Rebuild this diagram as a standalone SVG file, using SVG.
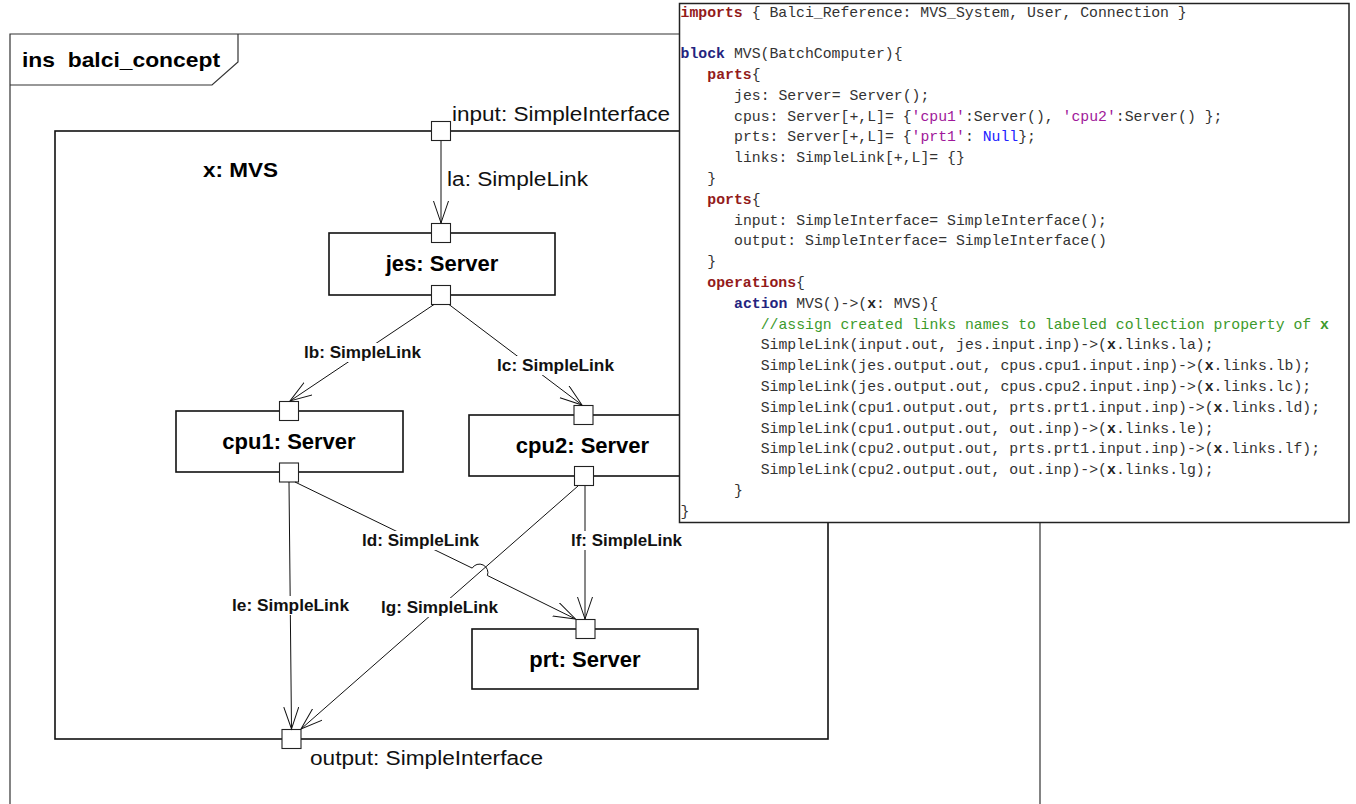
<svg xmlns="http://www.w3.org/2000/svg" width="1356" height="804" viewBox="0 0 1356 804">
<style>
.frame{fill:none;stroke:#333;stroke-width:1.2}
.blk{fill:none;stroke:#111;stroke-width:1.6}
.box{fill:#fff;stroke:#111;stroke-width:1.6}
.port{fill:#fff;stroke:#222;stroke-width:1.1}
.ln{fill:none;stroke:#111;stroke-width:1}
.lbg{fill:#fff}
.nt{font-family:"Liberation Sans",Arial,sans-serif;font-weight:bold;font-size:22px;fill:#000;text-anchor:middle}
.lt{font-family:"Liberation Sans",Arial,sans-serif;font-weight:bold;font-size:17px;fill:#111}
.rt{font-family:"Liberation Sans",Arial,sans-serif;font-size:20px;fill:#111}
.code{font-family:"Liberation Mono","Courier New",monospace;font-size:14.8px;fill:#333;white-space:pre}
.kw{fill:#931a1a;font-weight:bold}
.kb{fill:#24247e;font-weight:bold}
.str{fill:#a0189a}
.nul{fill:#2020ff}
.cm{fill:#3c9a2c}
.bx{font-weight:bold;fill:#222}
</style>
<defs>
<marker id="arr" markerUnits="userSpaceOnUse" markerWidth="26" markerHeight="18" refX="22" refY="7.5" orient="auto">
<path d="M0,0 L22,7.5 L0,15" fill="none" stroke="#111" stroke-width="1"/>
</marker>
</defs>

<g id="frame">
<path class="frame" d="M10,804 L10,34 L1040,34 L1040,804"/>
<path class="frame" d="M10,85 L212,85 L238,62 L238,34"/>
<text x="22" y="67" xml:space="preserve" textLength="198" lengthAdjust="spacingAndGlyphs" style="font-family:'Liberation Sans',Arial,sans-serif;font-weight:bold;font-size:21px;fill:#000">ins  balci_concept</text>
</g>

<g id="block-x">
<rect class="blk" x="55" y="131" width="773" height="608"/>
<text x="203" y="177" textLength="75" lengthAdjust="spacingAndGlyphs" style="font-family:'Liberation Sans',Arial,sans-serif;font-weight:bold;font-size:21px;fill:#000">x: MVS</text>
</g>

<g id="port-input">
<rect class="port" x="431.5" y="121.5" width="19" height="19"/>
<text class="rt" x="452" y="121" textLength="218" lengthAdjust="spacingAndGlyphs">input: SimpleInterface</text>
</g>

<g id="port-output">
<rect class="port" x="282" y="729.5" width="19" height="19"/>
<text class="rt" x="310" y="765" textLength="233" lengthAdjust="spacingAndGlyphs">output: SimpleInterface</text>
</g>

<g id="node-jes">
<rect class="box" x="329" y="233" width="226" height="62"/>
<rect class="port" x="431.5" y="223.5" width="19" height="19"/>
<rect class="port" x="431.5" y="285.5" width="19" height="19"/>
<text class="nt" x="442" y="271">jes: Server</text>
</g>

<g id="node-cpu1">
<rect class="box" x="176" y="411" width="227" height="61"/>
<rect class="port" x="279.5" y="401.5" width="19" height="19"/>
<rect class="port" x="279.5" y="463" width="19" height="19"/>
<text class="nt" x="289" y="449">cpu1: Server</text>
</g>

<g id="node-cpu2">
<rect class="box" x="469" y="415" width="228" height="61"/>
<rect class="port" x="574" y="405.5" width="19" height="19"/>
<rect class="port" x="574.5" y="466.5" width="19" height="19"/>
<text class="nt" x="582.5" y="453">cpu2: Server</text>
</g>

<g id="node-prt">
<rect class="box" x="472" y="629" width="226" height="60"/>
<rect class="port" x="576" y="619.5" width="19" height="19"/>
<text class="nt" x="585" y="667">prt: Server</text>
</g>

<g id="connectors">
<path class="ln" d="M441,141 L441,223" marker-end="url(#arr)"/>
<path class="ln" d="M434,304.5 L290,401" marker-end="url(#arr)"/>
<path class="ln" d="M449,304.5 L582,405" marker-end="url(#arr)"/>
<path class="ln" d="M295,482 L472.2,568.1 A8.5,8.5 0 0 1 487.4,575.5 L575.5,619" marker-end="url(#arr)"/>
<path class="ln" d="M289,482 L291.5,729" marker-end="url(#arr)"/>
<path class="ln" d="M585,486 L585,619" marker-end="url(#arr)"/>
<path class="ln" d="M578,486 L301,729" marker-end="url(#arr)"/>

<rect class="lbg" x="302" y="343" width="121" height="19"/>
<text class="lt" x="304" y="358" textLength="117" lengthAdjust="spacingAndGlyphs">lb: SimpleLink</text>
<rect class="lbg" x="495" y="356" width="121" height="19"/>
<text class="lt" x="497" y="371" textLength="117" lengthAdjust="spacingAndGlyphs">lc: SimpleLink</text>
<rect class="lbg" x="360" y="531" width="121" height="19"/>
<text class="lt" x="362" y="546" textLength="117" lengthAdjust="spacingAndGlyphs">ld: SimpleLink</text>
<rect class="lbg" x="569" y="531" width="115" height="19"/>
<text class="lt" x="571" y="546" textLength="111" lengthAdjust="spacingAndGlyphs">lf: SimpleLink</text>
<rect class="lbg" x="230" y="596" width="121" height="19"/>
<text class="lt" x="232" y="611" textLength="117" lengthAdjust="spacingAndGlyphs">le: SimpleLink</text>
<rect class="lbg" x="379" y="598" width="121" height="19"/>
<text class="lt" x="381" y="613" textLength="117" lengthAdjust="spacingAndGlyphs">lg: SimpleLink</text>
<text class="rt" x="447" y="186" textLength="141" lengthAdjust="spacingAndGlyphs">la: SimpleLink</text>
</g>

<g id="code-panel">
<rect x="679.5" y="3.5" width="669.5" height="519" fill="#fff" stroke="#222" stroke-width="1.5"/>
<text class="code" x="680.6" y="16.5"><tspan class="kw">imports</tspan> { Balci_Reference: MVS_System, User, Connection }</text>
<text class="code" x="680.6" y="58.1"><tspan class="kb">block</tspan> MVS(BatchComputer){</text>
<text class="code" x="707.3" y="78.9"><tspan class="kw">parts</tspan>{</text>
<text class="code" x="734" y="99.7">jes: Server= Server();</text>
<text class="code" x="734" y="120.5">cpus: Server[+,L]= {<tspan class="str">'cpu1'</tspan>:Server(), <tspan class="str">'cpu2'</tspan>:Server() };</text>
<text class="code" x="734" y="141.3">prts: Server[+,L]= {<tspan class="str">'prt1'</tspan>: <tspan class="nul">Null</tspan>};</text>
<text class="code" x="734" y="162.1">links: SimpleLink[+,L]= {}</text>
<text class="code" x="707.3" y="182.9">}</text>
<text class="code" x="707.3" y="203.7"><tspan class="kw">ports</tspan>{</text>
<text class="code" x="734" y="224.5">input: SimpleInterface= SimpleInterface();</text>
<text class="code" x="734" y="245.3">output: SimpleInterface= SimpleInterface()</text>
<text class="code" x="707.3" y="266.1">}</text>
<text class="code" x="707.3" y="286.9"><tspan class="kw">operations</tspan>{</text>
<text class="code" x="734" y="307.7"><tspan class="kb">action</tspan> MVS()-&gt;(<tspan class="bx">x</tspan>: MVS){</text>
<text class="code" x="760.7" y="328.5"><tspan class="cm">//assign created links names to labeled collection property of </tspan><tspan class="cm" font-weight="bold">x</tspan></text>
<text class="code" x="760.7" y="349.3">SimpleLink(input.out, jes.input.inp)-&gt;(<tspan class="bx">x</tspan>.links.la);</text>
<text class="code" x="760.7" y="370.1">SimpleLink(jes.output.out, cpus.cpu1.input.inp)-&gt;(<tspan class="bx">x</tspan>.links.lb);</text>
<text class="code" x="760.7" y="390.9">SimpleLink(jes.output.out, cpus.cpu2.input.inp)-&gt;(<tspan class="bx">x</tspan>.links.lc);</text>
<text class="code" x="760.7" y="411.7">SimpleLink(cpu1.output.out, prts.prt1.input.inp)-&gt;(<tspan class="bx">x</tspan>.links.ld);</text>
<text class="code" x="760.7" y="432.5">SimpleLink(cpu1.output.out, out.inp)-&gt;(<tspan class="bx">x</tspan>.links.le);</text>
<text class="code" x="760.7" y="453.3">SimpleLink(cpu2.output.out, prts.prt1.input.inp)-&gt;(<tspan class="bx">x</tspan>.links.lf);</text>
<text class="code" x="760.7" y="474.1">SimpleLink(cpu2.output.out, out.inp)-&gt;(<tspan class="bx">x</tspan>.links.lg);</text>
<text class="code" x="734" y="494.9">}</text>
<text class="code" x="680.6" y="515.7">}</text>
</g>
</svg>
